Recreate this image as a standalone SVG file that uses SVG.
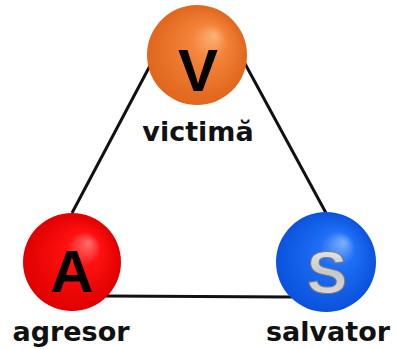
<svg xmlns="http://www.w3.org/2000/svg" width="396" height="349" viewBox="0 0 396 349">
<defs>
<style>
.edge{stroke:#111;stroke-width:3;fill:none}
.lbl{font-family:"DejaVu Sans",Verdana,sans-serif;font-weight:bold;font-size:27px;fill:#111;text-anchor:middle}
.ltr{font-family:"Liberation Sans",Arial,sans-serif;font-weight:bold;font-size:60px;text-anchor:middle}
</style>
<radialGradient id="gO" cx="0.5" cy="0.5" r="0.5" fx="0.68" fy="0.3">
<stop offset="0" stop-color="#fbb37a"/><stop offset="0.35" stop-color="#f3843a"/><stop offset="1" stop-color="#e0661c"/>
</radialGradient>
<radialGradient id="gR" cx="0.5" cy="0.5" r="0.5" fx="0.68" fy="0.3">
<stop offset="0" stop-color="#ff7070"/><stop offset="0.35" stop-color="#ff1010"/><stop offset="1" stop-color="#e00000"/>
</radialGradient>
<radialGradient id="gB" cx="0.5" cy="0.5" r="0.5" fx="0.68" fy="0.3">
<stop offset="0" stop-color="#7fb0ff"/><stop offset="0.35" stop-color="#1f6ff5"/><stop offset="1" stop-color="#0a52dd"/>
</radialGradient>
<linearGradient id="gS" x1="0" y1="0" x2="0" y2="1">
<stop offset="0" stop-color="#f2f2f2"/><stop offset="0.5" stop-color="#c8c8c8"/><stop offset="1" stop-color="#e0e0e0"/>
</linearGradient>
</defs>
<rect width="396" height="349" fill="#fff"/>
<g id="connectors">
<line class="edge" x1="153" y1="60" x2="72" y2="213"/>
<line class="edge" x1="243" y1="60" x2="326" y2="213"/>
<line class="edge" x1="106" y1="296" x2="292" y2="297"/>
</g>
<g id="victima">
<circle cx="197" cy="55" r="50" fill="url(#gO)"/>
<text class="ltr" x="198" y="91" fill="#000">V</text>
<text class="lbl" x="198" y="141">victimă</text>
</g>
<g id="agresor">
<circle cx="72" cy="262" r="49" fill="url(#gR)"/>
<text class="ltr" x="72" y="292" fill="#000">A</text>
<text class="lbl" x="71" y="341">agresor</text>
</g>
<g id="salvator">
<circle cx="326" cy="262" r="50" fill="url(#gB)"/>
<text class="ltr" x="327" y="293" fill="url(#gS)" stroke="#7a7a7a" stroke-width="1">S</text>
<text class="lbl" x="328" y="341">salvator</text>
</g>
</svg>
